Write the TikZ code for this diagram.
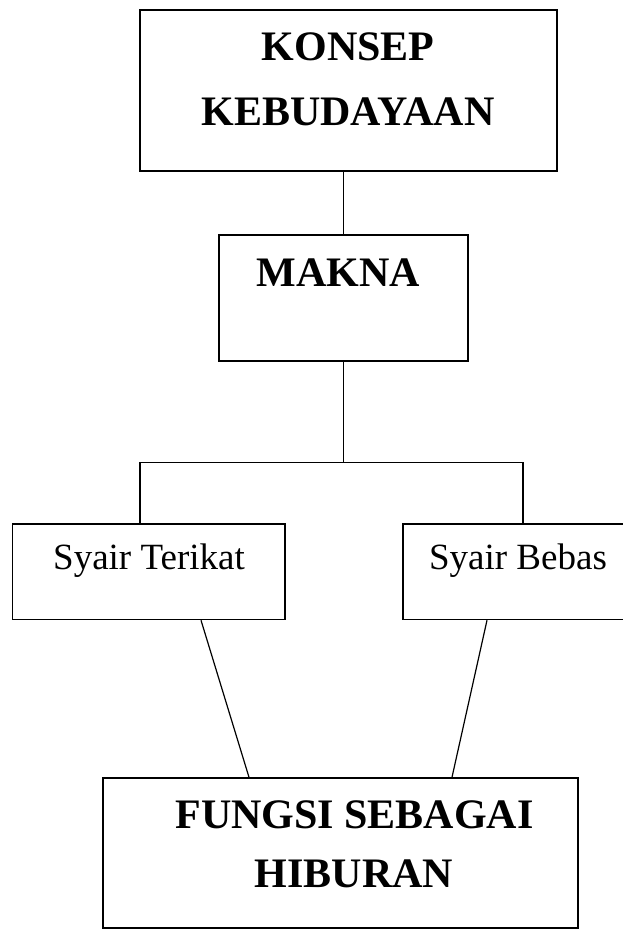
\documentclass[tikz,border=0pt]{standalone}
\usepackage{fontspec}
\setmainfont{Liberation Serif}
\begin{document}
\begin{tikzpicture}[x=1pt,y=-1pt,
  box/.style={draw,line width=1.5pt,inner sep=0pt},
  big/.style={font=\fontsize{42}{50}\selectfont\bfseries,inner sep=0pt,anchor=base},
  small/.style={font=\fontsize{37}{44}\selectfont,inner sep=0pt,anchor=base},
  conn/.style={line width=1.5pt},
  thin/.style={line width=1.2pt}]
\useasboundingbox (0,0) rectangle (623,935);
% boxes
\node[box,line width=2pt,minimum width=417pt,minimum height=161pt] (k) at (348.2,90.5) {};
\node[box,minimum width=249pt,minimum height=126pt] (m) at (343.5,298) {};
\node[box,minimum width=272.3pt,minimum height=95.5pt] (t) at (148.85,571.75) {};
\node[box,minimum width=230pt,minimum height=95.5pt] (b) at (518,571.75) {};
\node[box,minimum width=475pt,minimum height=150pt] (f) at (340.5,853) {};
% texts
\node[big] (k1) at (348,60) {KONSEP};
\node[big] (k2) at (348,125) {KEBUDAYAAN};
\node[big] (m1) at (338.5,286) {MAKNA};
\node[small] (t1) at (149,569) {Syair Terikat};
\node[small] (b1) at (518,569) {Syair Bebas};
\node[big] (f1) at (354.5,828) {FUNGSI SEBAGAI};
\node[big] (f2) at (354,887) {HIBURAN};
% connectors
\coordinate (jl) at (140,462.7);
\coordinate (jr) at (523,462.7);
\draw[conn] (m.north |- k.south) -- (m.north);
\draw[conn] (m.south) -- (m.south |- jl);
\draw[conn] (jl |- t.north) -- (jl) -- (jr) -- (jr |- b.north);
\draw[thin] ([xshift=52.15pt]t.south) -- ([xshift=-91.5pt]f.north);
\draw[thin] ([xshift=-31pt]b.south) -- ([xshift=111.5pt]f.north);
\end{tikzpicture}
\end{document}
